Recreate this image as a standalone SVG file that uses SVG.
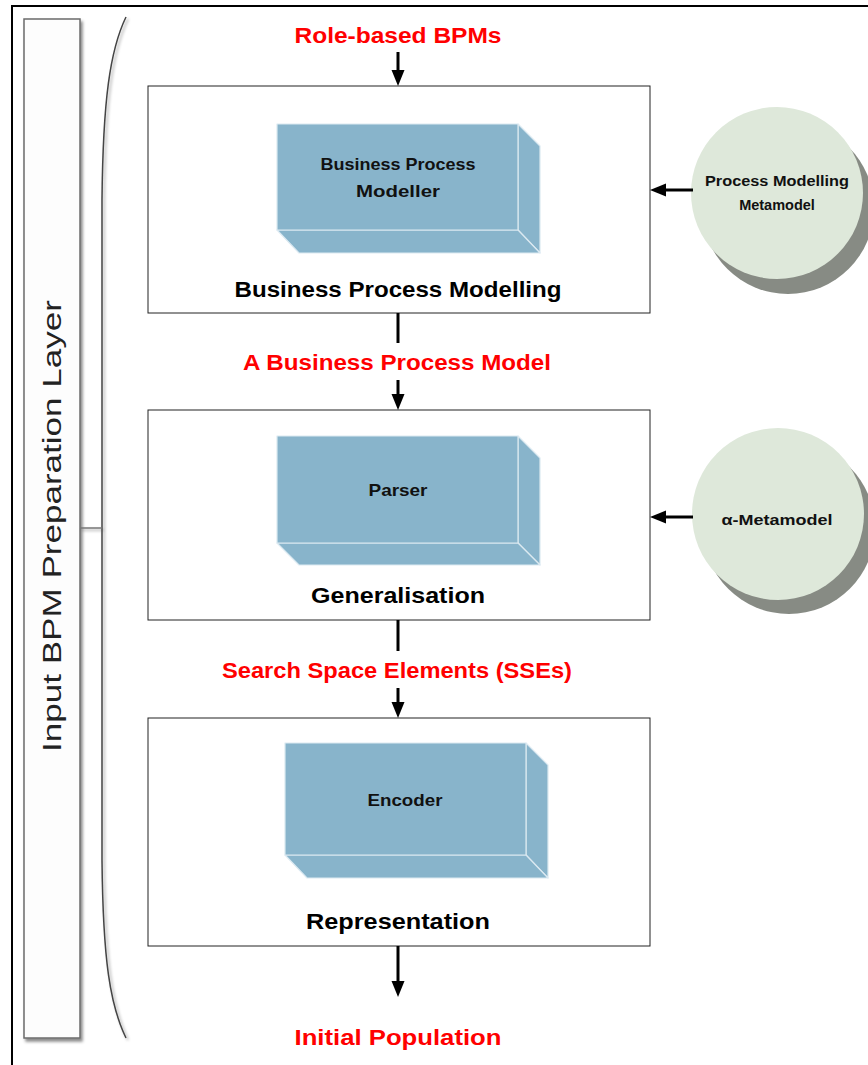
<svg xmlns="http://www.w3.org/2000/svg" width="868" height="1065" viewBox="0 0 868 1065">
  <defs>
    <style>
      .frame { fill: none; stroke: #000; stroke-width: 2; }
      .layer { fill: #fdfdfd; stroke: #6b6b6b; stroke-width: 1.5; }
      .brace { fill: none; stroke: #444; stroke-width: 1.5; }
      .stage { fill: #fff; stroke: #222; stroke-width: 1; }
      .face { fill: #88b4cb; stroke: #dbe9f1; stroke-width: 1.2; stroke-linejoin: round; }
      .meta { fill: #dee8da; }
      .metashadow { fill: #878b84; }
      .flow { stroke: #000; stroke-width: 3; fill: none; }
      .head { fill: #000; }
      .red { font-family: "Liberation Sans", Arial, sans-serif; font-weight: bold; font-size: 22px; fill: #ff0000; text-anchor: middle; }
      .title { font-family: "Liberation Sans", Arial, sans-serif; font-weight: bold; font-size: 22px; fill: #000; text-anchor: middle; }
      .blk { font-family: "Liberation Sans", Arial, sans-serif; font-weight: bold; font-size: 17px; fill: #111; text-anchor: middle; }
      .circ { font-family: "Liberation Sans", Arial, sans-serif; font-weight: bold; font-size: 14.5px; fill: #111; text-anchor: middle; }
      .side { font-family: "Liberation Sans", Arial, sans-serif; font-size: 26px; fill: #222; text-anchor: middle; }
    </style>
    <filter id="soft" x="-20%" y="-5%" width="150%" height="110%">
      <feDropShadow dx="2" dy="3" stdDeviation="1.5" flood-color="#000" flood-opacity="0.45"/>
    </filter>
    <filter id="softline" x="-50%" y="-5%" width="200%" height="110%">
      <feDropShadow dx="2" dy="2" stdDeviation="1.5" flood-color="#000" flood-opacity="0.35"/>
    </filter>
    <!-- arrowhead pointing down, tip at origin -->
    <path id="headDown" d="M-6.5,-16 L6.5,-16 L0,0 Z"/>
    <!-- arrowhead pointing left, tip at origin -->
    <path id="headLeft" d="M0,0 L16,-6.5 L16,6.5 Z"/>
  </defs>

  <rect width="868" height="1065" fill="#fff"/>

  <!-- outer frame (top and left edges) -->
  <path class="frame" d="M12,1065 L12,6 L868,6"/>

  <!-- layer bar -->
  <g id="layer-bar">
    <rect class="layer" x="24" y="19" width="56" height="1019" filter="url(#soft)"/>
    <text class="side" transform="translate(61,526) rotate(-90)" textLength="452" lengthAdjust="spacingAndGlyphs">Input BPM Preparation Layer</text>
  </g>

  <!-- bracket grouping the stages -->
  <g id="bracket" filter="url(#softline)">
    <path class="brace" d="M126,17 C110,50 103,100 102,200 L102,860 C103,960 110,1005 126,1038"/>
    <line x1="80" y1="528" x2="102" y2="528" stroke="#777" stroke-width="1.5"/>
  </g>

  <!-- stage: Business Process Modelling -->
  <g id="stage-modelling">
    <rect class="stage" x="148" y="86" width="502" height="227"/>
    <g id="block-modeller">
      <polygon class="face" points="518,124 540,146 540,253 518,230"/>
      <polygon class="face" points="277,230 518,230 540,253 299,253"/>
      <rect class="face" x="277" y="124" width="241" height="106"/>
      <text class="blk" x="398" y="170" textLength="155" lengthAdjust="spacingAndGlyphs">Business Process</text>
      <text class="blk" x="398" y="197" textLength="84" lengthAdjust="spacingAndGlyphs">Modeller</text>
    </g>
    <text class="title" x="398" y="297" textLength="327" lengthAdjust="spacingAndGlyphs">Business Process Modelling</text>
  </g>

  <!-- stage: Generalisation -->
  <g id="stage-generalisation">
    <rect class="stage" x="148" y="410" width="502" height="210"/>
    <g id="block-parser">
      <polygon class="face" points="518,436 540,458 540,565 518,543"/>
      <polygon class="face" points="277,543 518,543 540,565 299,565"/>
      <rect class="face" x="277" y="436" width="241" height="107"/>
      <text class="blk" x="398" y="496" textLength="59" lengthAdjust="spacingAndGlyphs">Parser</text>
    </g>
    <text class="title" x="398" y="603" textLength="174" lengthAdjust="spacingAndGlyphs">Generalisation</text>
  </g>

  <!-- stage: Representation -->
  <g id="stage-representation">
    <rect class="stage" x="148" y="718" width="502" height="228"/>
    <g id="block-encoder">
      <polygon class="face" points="526,743 548,765 548,878 526,855"/>
      <polygon class="face" points="285,855 526,855 548,878 307,878"/>
      <rect class="face" x="285" y="743" width="241" height="112"/>
      <text class="blk" x="405" y="806" textLength="75" lengthAdjust="spacingAndGlyphs">Encoder</text>
    </g>
    <text class="title" x="398" y="929" textLength="184" lengthAdjust="spacingAndGlyphs">Representation</text>
  </g>

  <!-- metamodels -->
  <g id="meta-process">
    <circle class="metashadow" cx="788" cy="208" r="86"/>
    <circle class="meta" cx="777" cy="193" r="86"/>
    <text class="circ" x="777" y="186" textLength="144" lengthAdjust="spacingAndGlyphs">Process Modelling</text>
    <text class="circ" x="777" y="210">Metamodel</text>
  </g>
  <g id="meta-alpha">
    <circle class="metashadow" cx="789" cy="528" r="86"/>
    <circle class="meta" cx="778" cy="514" r="86"/>
    <text class="circ" x="777" y="525" textLength="111" lengthAdjust="spacingAndGlyphs">α-Metamodel</text>
  </g>

  <!-- flow labels -->
  <g id="labels">
    <text class="red" x="398" y="43" textLength="207" lengthAdjust="spacingAndGlyphs">Role-based BPMs</text>
    <text class="red" x="397" y="370" textLength="308" lengthAdjust="spacingAndGlyphs">A Business Process Model</text>
    <text class="red" x="397" y="678" textLength="350" lengthAdjust="spacingAndGlyphs">Search Space Elements (SSEs)</text>
    <text class="red" x="398" y="1045" textLength="207" lengthAdjust="spacingAndGlyphs">Initial Population</text>
  </g>

  <!-- connectors -->
  <g id="connectors">
    <line class="flow" x1="398" y1="52" x2="398" y2="72"/>
    <use href="#headDown" class="head" x="398" y="86"/>

    <line class="flow" x1="398" y1="313" x2="398" y2="343"/>
    <line class="flow" x1="398" y1="380" x2="398" y2="396"/>
    <use href="#headDown" class="head" x="398" y="410"/>

    <line class="flow" x1="398" y1="620" x2="398" y2="651"/>
    <line class="flow" x1="398" y1="688" x2="398" y2="704"/>
    <use href="#headDown" class="head" x="398" y="718"/>

    <line class="flow" x1="398" y1="946" x2="398" y2="983"/>
    <use href="#headDown" class="head" x="398" y="997"/>

    <line class="flow" x1="693" y1="190" x2="664" y2="190"/>
    <use href="#headLeft" class="head" x="650" y="190"/>

    <line class="flow" x1="693" y1="517" x2="664" y2="517"/>
    <use href="#headLeft" class="head" x="650" y="517"/>
  </g>
</svg>
